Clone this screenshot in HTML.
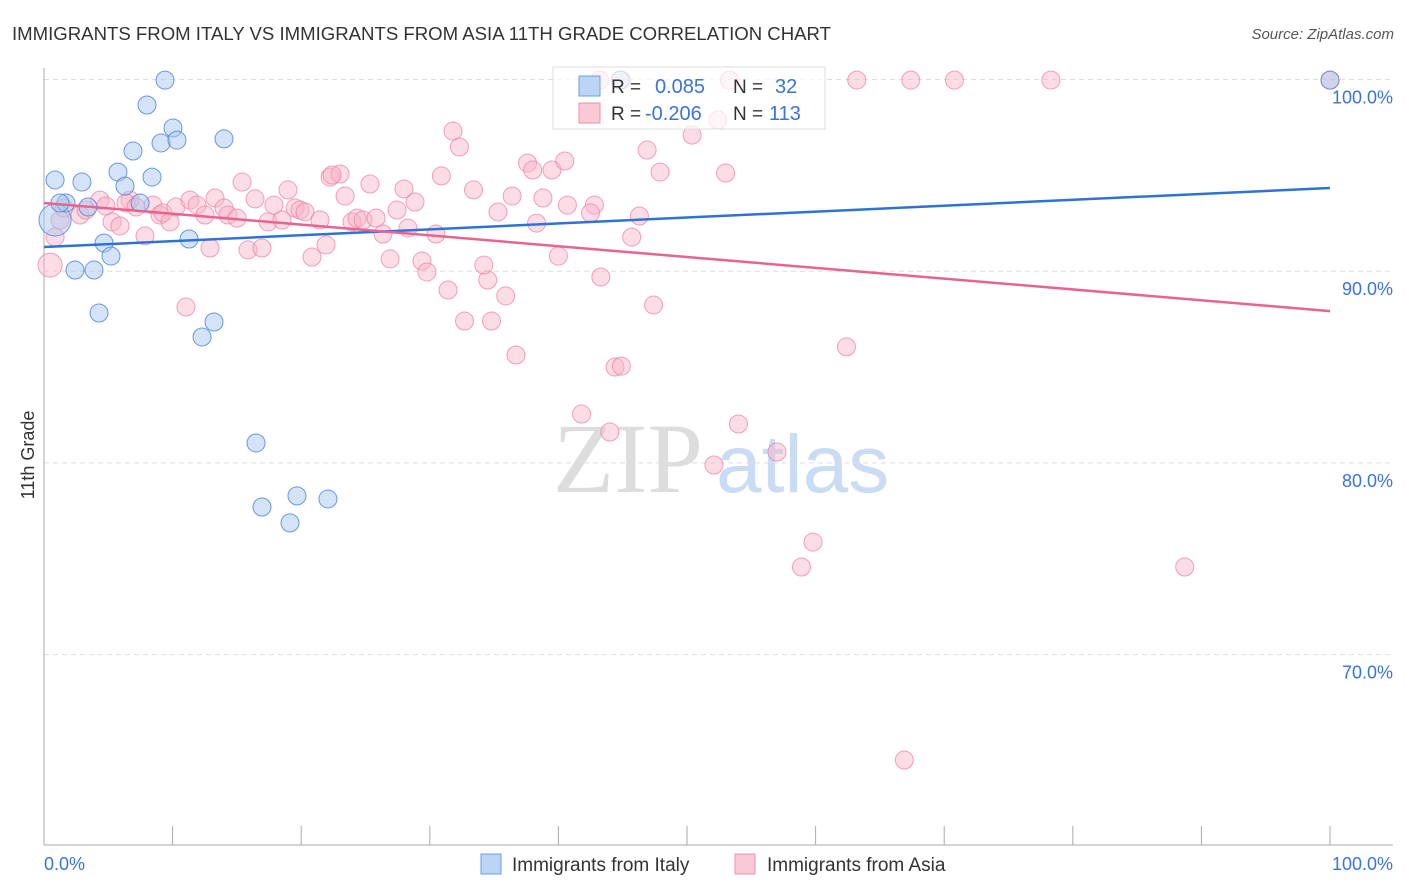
<!DOCTYPE html>
<html><head><meta charset="utf-8"><style>
body{margin:0;background:#fff;font-family:"Liberation Sans",sans-serif;}
svg{display:block}
</style></head><body>
<svg id="c" width="1406" height="892" xmlns="http://www.w3.org/2000/svg">
<text x="12" y="40" font-size="18.5" fill="#333" textLength="819" lengthAdjust="spacingAndGlyphs">IMMIGRANTS FROM ITALY VS IMMIGRANTS FROM ASIA 11TH GRADE CORRELATION CHART</text>
<text x="1394" y="39" font-size="15" fill="#555" font-style="italic" text-anchor="end">Source: ZipAtlas.com</text>
<g>
<text x="553" y="492" font-size="100" fill="#ddd" font-family="Liberation Serif,serif">ZIP</text>
<text x="716" y="492" font-size="82" fill="#c9dcf3">atlas</text>
</g>
<g id="grid"></g>
<g id="axes"></g>
<g id="marks"></g>
<g>
<rect x="553" y="67" width="272" height="62" fill="#fff" fill-opacity="0.7" stroke="#ddd"/>
<rect x="579" y="76" width="21" height="20" fill="#bcd5f5" stroke="#6a9ee6"/>
<rect x="579" y="103" width="21" height="20" fill="#fbc8d6" stroke="#ec8fab"/>
<text x="611" y="93" font-size="19" fill="#333">R =</text>
<text x="655" y="93" font-size="20" fill="#3a74d6">0.085</text>
<text x="733" y="93" font-size="19" fill="#333">N =</text>
<text x="775" y="93" font-size="20" fill="#3a74d6">32</text>
<text x="611" y="120" font-size="19" fill="#333">R =</text>
<text x="645" y="120" font-size="20" fill="#3a74d6">-0.206</text>
<text x="733" y="120" font-size="19" fill="#333">N =</text>
<text x="769" y="120" font-size="20" fill="#3a74d6">113</text>
</g>
<g>
<rect x="481" y="854" width="20" height="20" fill="#bcd5f5" stroke="#6a9ee6"/>
<text x="512" y="871" font-size="19" fill="#333">Immigrants from Italy</text>
<rect x="735" y="854" width="20" height="20" fill="#fbc8d6" stroke="#ec8fab"/>
<text x="767" y="871" font-size="19" fill="#333">Immigrants from Asia</text>
</g>
<text x="0" y="0" font-size="18" fill="#333" transform="translate(34,455) rotate(-90)" text-anchor="middle">11th Grade</text>
</svg>
<script>
const yTicks=[100,90,80,70];
const yTickLabels=["100.0%","90.0%","80.0%","70.0%"];
const xTicks=[0,10,20,30,40,50,60,70,80,90,100];
const xTickLabels=["0.0%","100.0%"];
const italyX=[0.86,0.86,1.71,2.41,2.95,3.42,3.89,4.28,4.67,5.21,5.75,6.30,6.92,7.47,8.01,8.40,9.10,9.41,10.03,10.34,11.28,12.29,13.22,14.0,16.49,16.95,19.13,19.67,22.08,44.79,100,1.24];
const italyY=[94.76,92.67,93.56,90.06,94.65,93.35,90.06,87.82,91.47,90.79,95.17,94.44,96.27,93.56,98.67,94.91,96.69,99.97,97.47,96.84,91.68,86.57,87.35,96.9,81.04,77.70,76.87,78.28,78.12,99.97,99.97,93.56];
const asiaX=[0.47,43.2,44.9,53.3,63.2,67.4,70.8,78.3,100,52.4,50.4,46.9,47.9,53.0,31.8,32.3,37.6,38.0,39.5,40.5,30.9,33.4,36.4,35.3,38.8,40.7,42.8,42.5,46.3,38.3,45.7,40.0,43.3,47.4,34.5,34.2,35.9,32.7,34.8,36.7,44.4,44.9,41.8,44.0,54.0,52.1,57.0,62.4,59.8,58.9,88.7,66.9,
0.86,1.24,1.56,2.80,3.27,4.35,4.82,5.29,5.91,6.69,6.38,7.15,7.85,8.48,9.02,9.25,9.80,10.26,11.04,11.35,11.90,12.52,12.91,13.30,14.00,14.31,15.01,15.40,15.86,16.41,16.95,17.42,17.88,18.51,18.97,19.52,19.91,20.30,20.84,21.46,21.93,22.24,23.02,23.41,23.95,24.34,24.81,25.35,25.82,26.36,26.91,27.45,27.99,28.30,28.85,29.39,29.78,30.48,31.42,22.40];
const asiaY=[90.32,99.97,99.97,99.97,99.97,99.97,99.97,99.97,99.97,97.89,97.10,96.32,95.17,95.12,97.31,96.48,95.64,95.28,95.28,95.75,94.97,94.24,93.92,93.09,93.82,93.45,93.45,93.04,92.88,92.51,91.78,90.79,89.70,88.24,89.54,90.32,88.71,87.40,87.40,85.63,85.00,85.05,82.55,81.61,82.03,79.89,80.57,86.05,75.87,74.57,74.57,64.50,
91.78,92.67,93.30,92.93,93.19,93.71,93.40,92.57,92.36,93.71,93.56,93.35,91.84,93.45,92.93,93.04,92.57,93.35,88.13,93.71,93.45,92.93,91.21,93.82,93.30,92.93,92.77,94.65,91.11,93.77,91.21,92.57,93.45,92.67,94.24,93.30,93.19,93.09,90.74,92.67,91.37,94.91,95.07,93.92,92.57,92.77,92.67,94.55,92.77,91.94,90.64,93.19,94.29,92.25,93.61,90.53,89.96,91.94,89.02,95.02];
const italyTrend=[91.26,94.34];
const asiaTrend=[93.56,87.92];
const NS="http://www.w3.org/2000/svg";
const X0=44,X1=1330,Y100=79.5,PX10=191.7;
const sx=v=>X0+(X1-X0)*v/100;
const sy=v=>Y100+(100-v)*PX10/10;
function mk(t,a,p){const e=document.createElementNS(NS,t);for(const k in a)e.setAttribute(k,a[k]);p.appendChild(e);return e;}
const grid=document.getElementById('grid'),axes=document.getElementById('axes'),marks=document.getElementById('marks');
yTicks.forEach((v,i)=>{
 const l=mk('line',{x1:X0,x2:1393,y1:sy(v),y2:sy(v),stroke:'#ddd','stroke-dasharray':'5,4'},grid);
 
 
 const t=mk('text',{x:1393,y:sy(v)+24,'font-size':18,fill:'#3a74d6','text-anchor':'end'},grid);
 t.textContent=yTickLabels[i];
 
 
});
const ax=mk('line',{x1:X0,x2:1393,y1:845,y2:845,stroke:'#aaa'},axes);


const ay=mk('line',{x1:X0,x2:X0,y1:68,y2:845,stroke:'#aaa'},axes);


xTicks.forEach(v=>{
 const t=mk('line',{x1:sx(v),x2:sx(v),y1:826,y2:845,stroke:'#aaa'},axes);
 
 
});
const xl0=mk('text',{x:X0,y:870,'font-size':18,fill:'#3a74d6'},axes);
xl0.textContent=xTickLabels[0];


const xl1=mk('text',{x:1393,y:870,'font-size':18,fill:'#3a74d6','text-anchor':'end'},axes);
xl1.textContent=xTickLabels[1];


asiaX.forEach((v,i)=>{
 const c=mk('circle',{cx:sx(v),cy:sy(asiaY[i]),r:i===0?12:9,fill:'rgba(248,180,200,0.45)',stroke:'rgba(236,130,165,0.75)','stroke-width':1},marks);
 
 
});
italyX.forEach((v,i)=>{
 const c=mk('circle',{cx:sx(v),cy:sy(italyY[i]),r:i===1?16:9,fill:'rgba(170,200,240,0.5)',stroke:'rgba(70,130,220,0.8)','stroke-width':1},marks);
 
 
});
const tb=mk('line',{x1:sx(0),x2:sx(100),y1:sy(italyTrend[0]),y2:sy(italyTrend[1]),stroke:'#2f72d6','stroke-width':2.5},marks);


const tp=mk('line',{x1:sx(0),x2:sx(100),y1:sy(asiaTrend[0]),y2:sy(asiaTrend[1]),stroke:'#e8648f','stroke-width':2.5},marks);


</script>
</body></html>
